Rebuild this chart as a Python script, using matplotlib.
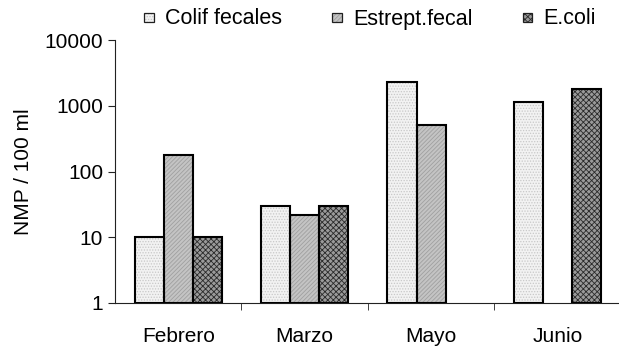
import numpy as np
import matplotlib
matplotlib.use("Agg")
import matplotlib.pyplot as plt
from matplotlib.patches import Rectangle
from matplotlib.ticker import FixedLocator, FixedFormatter, NullLocator

categories = ["Febrero", "Marzo", "Mayo", "Junio"]
series_names = ["Colif fecales", "Estrept.fecal", "E.coli"]
colif = [10, 30, 2290, 1150]
estrept = [178, 22, 510, np.nan]
ecoli = [10, 30, np.nan, 1800]
yticks = [1, 10, 100, 1000, 10000]
ytick_labels = ["1", "10", "100", "1000", "10000"]

plt.rcParams['font.family'] = ['Liberation Sans', 'DejaVu Sans']
plt.rcParams['hatch.linewidth'] = 0.6

W, H = 619, 349
fig = plt.figure(figsize=(W / 100, H / 100), dpi=100)
ax = fig.add_axes([115 / W, 1 - 303 / H, (620.7 - 115) / W, 263 / H])

styles = [
    dict(face="#f2f2f2", hatch="......", hc="#c8c8c8"),
    dict(face="#c4c4c4", hatch="////////", hc="#a0a0a0"),
    dict(face="#9a9a9a", hatch="xxxxxx", hc="#2a2a2a"),
]
data = [colif, estrept, ecoli]
x = np.arange(len(categories))
w = 0.23
for i, (vals, st) in enumerate(zip(data, styles)):
    pos = x + (i - 1) * w
    v = np.array(vals, dtype=float)
    mask = ~np.isnan(v)
    ax.bar(pos[mask], v[mask] - 1, width=w, bottom=1, facecolor=st["face"],
           hatch=st["hatch"], edgecolor=st["hc"], linewidth=0, zorder=2)
    ax.bar(pos[mask], v[mask] - 1, width=w, bottom=1, fill=False,
           edgecolor="black", linewidth=1.5, zorder=3)

ax.set_yscale("log")
ax.set_ylim(1, 10000)
ax.set_xlim(-0.5, 3.5)
ax.yaxis.set_major_locator(FixedLocator(yticks))
ax.yaxis.set_major_formatter(FixedFormatter(ytick_labels))
ax.yaxis.set_minor_locator(NullLocator())

fs = 15
ax.set_xticks(x)
ax.set_xticklabels(categories)
ax.xaxis.set_minor_locator(FixedLocator([0.5, 1.5, 2.5]))
ax.tick_params(axis="x", which="major", length=0, pad=17, labelsize=fs)
ax.tick_params(axis="x", which="minor", length=5, direction="out", color="#222222")
ax.tick_params(axis="y", which="major", length=5, direction="out", labelsize=fs, pad=3.5, color="#222222")

for s in ["top", "right"]:
    ax.spines[s].set_visible(False)
ax.spines["left"].set_color("#222222")
ax.spines["bottom"].set_color("#222222")
ax.set_ylabel("NMP / 100 ml", fontsize=fs, labelpad=8)

# Legend (manual, baseline-aligned, in pixel units)
renderer = fig.canvas.get_renderer()
box = 9.5
gap_text = 11.5
gap_col = 50
x_px = 144.0
baseline = H - 24.5
box_bottom = H - 22.0
for name, st in zip(series_names, styles):
    rect = Rectangle((x_px / W, box_bottom / H), box / W, box / H,
                     transform=fig.transFigure, facecolor=st["face"],
                     hatch=st["hatch"], edgecolor=st["hc"], linewidth=0)
    fig.add_artist(rect)
    rect2 = Rectangle((x_px / W, box_bottom / H), box / W, box / H,
                      transform=fig.transFigure, fill=False,
                      edgecolor="#202020", linewidth=0.9)
    fig.add_artist(rect2)
    t = fig.text((x_px + box + gap_text) / W, baseline / H, name,
                 fontsize=15.5, va="baseline", ha="left")
    ext = t.get_window_extent(renderer)
    x_px = ext.x1 + gap_col

fig.savefig("out.png", dpi=100)
